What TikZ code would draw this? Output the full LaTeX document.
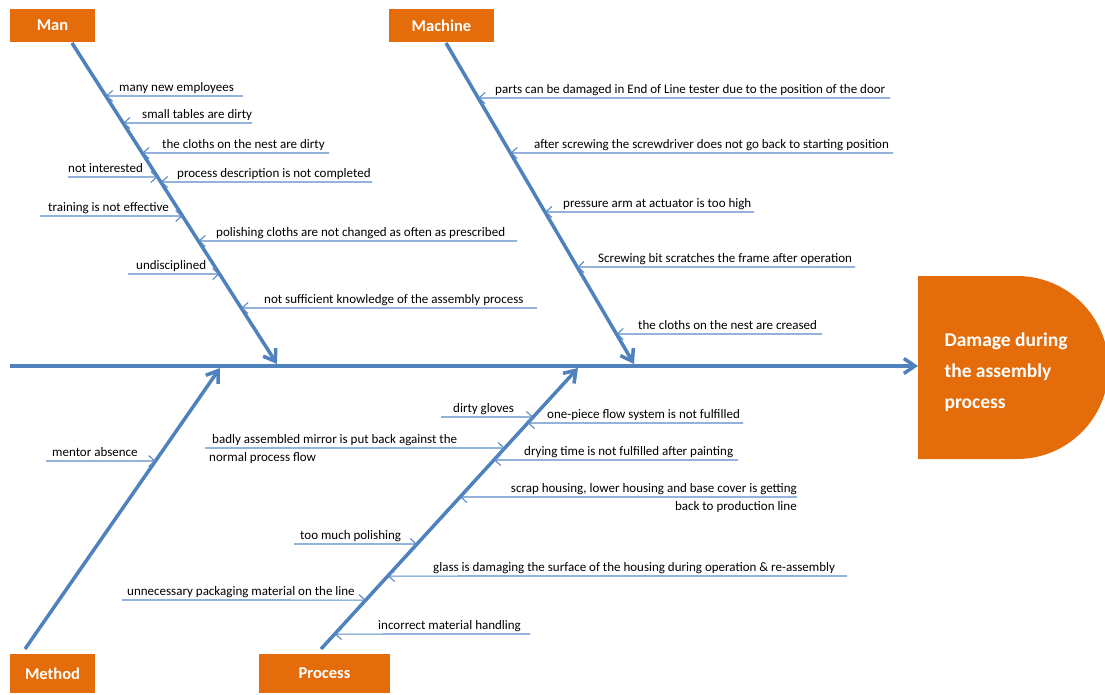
\documentclass[tikz,border=0pt]{standalone}
\usepackage{fontspec}
\setmainfont{Carlito}
\usetikzlibrary{arrows.meta}
\definecolor{fish-orange}{HTML}{E46C0A}
\definecolor{fish-blue}{HTML}{4F81BD}
\definecolor{cause-blue}{HTML}{5A8AC6}

\begin{document}
\begin{tikzpicture}[x=1pt, y=-1pt,
      cat/.style={fill=fish-orange, text=white, inner sep=0pt,
        font=\fontsize{16.5}{18}\selectfont\bfseries, minimum height=33pt},
      bone/.style={draw=fish-blue, line width=3.5pt,
        -{Straight Barb[length=11pt, width=15pt]}},
      cause/.style={draw=cause-blue, line width=1.1pt,
        -{Straight Barb[length=6pt, width=11pt]}},
      lbl/.style={inner xsep=0pt, inner ysep=1.5pt, text height=9pt,
        text depth=3pt, font=\fontsize{13}{14}\selectfont, anchor=south west}]
    \useasboundingbox (0,0) rectangle (1105,695);

    % categories
    \node[cat, minimum width=85pt] (man) at (52.5,25.5) {Man};
    \node[cat, minimum width=105pt] (machine) at (441.5,25.5) {Machine};
    \node[cat, minimum width=85pt, minimum height=39pt] (method) at (52.5,673.5) {Method};
    \node[cat, minimum width=131pt, minimum height=39pt] (process) at (324.5,673.5) {Process};

    % effect
    \fill[fish-orange] (918,276) -- (1017,276)
          arc[start angle=90, end angle=-90, radius=91.5pt] -- (918,459) -- cycle;
    \node[anchor=west, align=left, text=white,
          font=\fontsize{19.5}{31}\selectfont\bfseries]
          (effect) at (941,372) {Damage during\\the assembly\\process};

    % spine and bones
    \coordinate (tail) at (10,366);
    \coordinate (head) at (918,366);
    \coordinate (manTop) at (72,43);
    \coordinate (manTip) at (277,364);
    \coordinate (macTop) at (446,43);
    \coordinate (macTip) at (634,364);
    \coordinate (metBot) at (25,649);
    \coordinate (metTip) at (220,368);
    \coordinate (proBot) at (321,649);
    \coordinate (proTip) at (578,368);
    \draw[bone] (tail) -- (head);
    \draw[bone] (manTop) -- (manTip);
    \draw[bone] (macTop) -- (macTip);
    \draw[bone] (metBot) -- (metTip);
    \draw[bone] (proBot) -- (proTip);

    % Man
    \coordinate (n1e) at (243,96);
    \node[lbl] (n1) at (119,96) {many new employees};
    \draw[cause] (n1e) -- (intersection of manTop--manTip and n1e--n1.south west);
    \coordinate (n2e) at (252,123);
    \node[lbl] (n2) at (142,123) {small tables are dirty};
    \draw[cause] (n2e) -- (intersection of manTop--manTip and n2e--n2.south west);
    \coordinate (n3e) at (329,153);
    \node[lbl] (n3) at (162,153) {the cloths on the nest are dirty};
    \draw[cause] (n3e) -- (intersection of manTop--manTip and n3e--n3.south west);
    \coordinate (n4e) at (372,182);
    \node[lbl] (n4) at (177,182) {process description is not completed};
    \draw[cause] (n4e) -- (intersection of manTop--manTip and n4e--n4.south west);
    \coordinate (n5e) at (68,177);
    \node[lbl] (n5) at (68,177) {not interested};
    \draw[cause] (n5e) -- (intersection of manTop--manTip and n5e--n5.south east);
    \coordinate (n6e) at (40,216);
    \node[lbl] (n6) at (48,216) {training is not effective};
    \draw[cause] (n6e) -- (intersection of manTop--manTip and n6e--n6.south east);
    \coordinate (n7e) at (517,241);
    \node[lbl] (n7) at (216,241) {polishing cloths are not changed as often as prescribed};
    \draw[cause] (n7e) -- (intersection of manTop--manTip and n7e--n7.south west);
    \coordinate (n8e) at (128,274);
    \node[lbl] (n8) at (136,274) {undisciplined};
    \draw[cause] (n8e) -- (intersection of manTop--manTip and n8e--n8.south east);
    \coordinate (n9e) at (537,308);
    \node[lbl] (n9) at (264,308) {not sufficient knowledge of the assembly process};
    \draw[cause] (n9e) -- (intersection of manTop--manTip and n9e--n9.south west);

    % Machine
    \coordinate (k1e) at (890,98);
    \node[lbl] (k1) at (495,98) {parts can be damaged in End of Line tester due to the position of the door};
    \draw[cause] (k1e) -- (intersection of macTop--macTip and k1e--k1.south west);
    \coordinate (k2e) at (893,153);
    \node[lbl] (k2) at (534,153) {after screwing the screwdriver does not go back to starting position};
    \draw[cause] (k2e) -- (intersection of macTop--macTip and k2e--k2.south west);
    \coordinate (k3e) at (754,212);
    \node[lbl] (k3) at (563,212) {pressure arm at actuator is too high};
    \draw[cause] (k3e) -- (intersection of macTop--macTip and k3e--k3.south west);
    \coordinate (k4e) at (855,267);
    \node[lbl] (k4) at (598,267) {Screwing bit scratches the frame after operation};
    \draw[cause] (k4e) -- (intersection of macTop--macTip and k4e--k4.south west);
    \coordinate (k5e) at (822,334);
    \node[lbl] (k5) at (638,334) {the cloths on the nest are creased};
    \draw[cause] (k5e) -- (intersection of macTop--macTip and k5e--k5.south west);

    % Method
    \coordinate (d1e) at (46,461);
    \node[lbl] (d1) at (52,461) {mentor absence};
    \draw[cause] (d1e) -- (intersection of metBot--metTip and d1e--d1.south east);

    % Process
    \coordinate (p1e) at (441,417);
    \node[lbl] (p1) at (453,417) {dirty gloves};
    \draw[cause] (p1e) -- (intersection of proBot--proTip and p1e--p1.south east);
    \coordinate (p2e) at (205,448);
    \node[lbl] (p2) at (212,448) {badly assembled mirror is put back against the};
    \node[lbl, anchor=north west, inner ysep=4pt] (p2b) at (209,448) {normal process flow};
    \draw[cause] (p2e) -- (intersection of proBot--proTip and p2e--p2.south east);
    \coordinate (p3e) at (743,423);
    \node[lbl] (p3) at (547,423) {one-piece flow system is not fulfilled};
    \draw[cause] (p3e) -- (intersection of proBot--proTip and p3e--p3.south west);
    \coordinate (p4e) at (738,460);
    \node[lbl] (p4) at (524,460) {drying time is not fulfilled after painting};
    \draw[cause] (p4e) -- (intersection of proBot--proTip and p4e--p4.south west);
    \node[lbl, anchor=south east] (p5) at (797,497) {scrap housing, lower housing and base cover is getting};
    \node[lbl, anchor=north east, inner ysep=4pt] (p5b) at (797,497) {back to production line};
    \draw[cause] (p5.south east) -- (intersection of proBot--proTip and p5.south east--p5.south west);
    \coordinate (p6e) at (294,544);
    \node[lbl] (p6) at (300,544) {too much polishing};
    \draw[cause] (p6e) -- (intersection of proBot--proTip and p6e--p6.south east);
    \coordinate (p7e) at (847,576);
    \node[lbl] (p7) at (433,576) {glass is damaging the surface of the housing during operation \& re-assembly};
    \draw[cause] (p7e) -- (intersection of proBot--proTip and p7e--p7.south west);
    \coordinate (p8e) at (122,600);
    \node[lbl] (p8) at (127,600) {unnecessary packaging material on the line};
    \draw[cause] (p8e) -- (intersection of proBot--proTip and p8e--p8.south east);
    \coordinate (p9e) at (530,634);
    \node[lbl] (p9) at (378,634) {incorrect material handling};
    \draw[cause] (p9e) -- (intersection of proBot--proTip and p9e--p9.south west);
  \end{tikzpicture}
\end{document}
